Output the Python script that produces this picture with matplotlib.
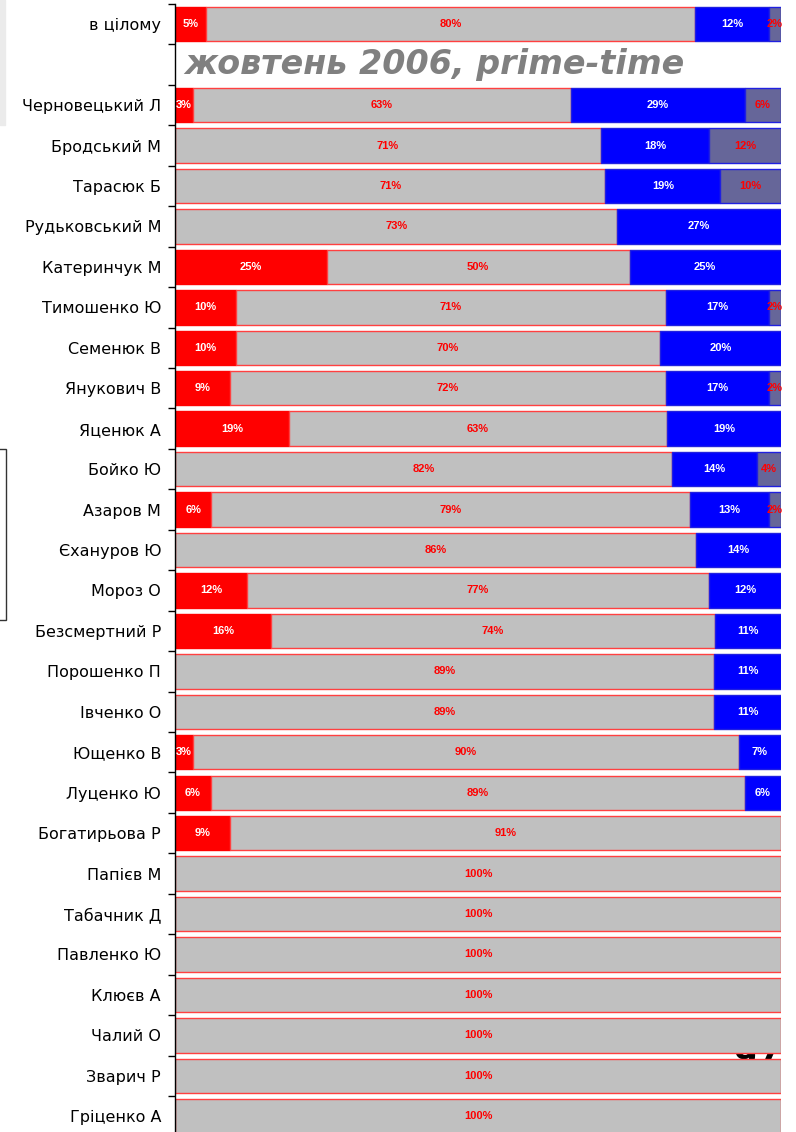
import matplotlib.pyplot as plt
import numpy as np
from matplotlib.patches import Rectangle

names = ["в цілому", "", "Черновецький Л", "Бродський М", "Тарасюк Б",
         "Рудьковський М", "Катеринчук М", "Тимошенко Ю", "Семенюк В",
         "Янукович В", "Яценюк А", "Бойко Ю", "Азаров М", "Єхануров Ю",
         "Мороз О", "Безсмертний Р", "Порошенко П", "Івченко О", "Ющенко В",
         "Луценко Ю", "Богатирьова Р", "Папієв М", "Табачник Д", "Павленко Ю",
         "Клюєв А", "Чалий О", "Зварич Р", "Гріценко А"]

# percent shares per row (blank row between total and the people)
neg = [5, 0, 3, 0, 0, 0, 25, 10, 10, 9, 19, 0, 6, 0, 12, 16, 0, 0, 3, 6, 9,
       0, 0, 0, 0, 0, 0, 0]
neutral = [80, 0, 63, 71, 71, 73, 50, 71, 70, 72, 63, 82, 79, 86, 77, 74, 89,
           89, 90, 89, 91, 100, 100, 100, 100, 100, 100, 100]
pos = [12, 0, 29, 18, 19, 27, 25, 17, 20, 17, 19, 14, 13, 14, 12, 11, 11, 11,
       7, 6, 0, 0, 0, 0, 0, 0, 0, 0]
other = [2, 0, 6, 12, 10, 0, 0, 2, 0, 2, 0, 4, 2, 0, 0, 0, 0, 0, 0, 0, 0,
         0, 0, 0, 0, 0, 0, 0]

series = [
    (neg, "#FF0000", "#FF0000", "white"),
    (neutral, "#C0C0C0", "#FF4040", "#FF0000"),
    (pos, "#0000FF", "#2020E0", "white"),
    (other, "#666699", "#2020E0", "#FF0000"),
]

vals = np.array([s[0] for s in series], dtype=float)
tot = vals.sum(axis=0)
tot[tot == 0] = 1
widths = vals / tot * 100

fig = plt.figure(figsize=(7.96, 11.32), dpi=100)

# page leftovers around the chart
fig.patches.append(Rectangle((0, 1 - 125 / 1132), 5 / 796, 125 / 1132,
                             transform=fig.transFigure, color="#EBEBEB", zorder=-2))
fig.patches.append(Rectangle((-0.01, 1 - 620 / 1132), 5.5 / 796 + 0.01, 171 / 1132,
                             transform=fig.transFigure, fill=False,
                             edgecolor="#333333", lw=1, zorder=-2))
fig.text(733 / 796, 1 - 1068 / 1132, "97", fontsize=24, fontweight="bold",
         color="black", zorder=-1)

ax = fig.add_axes([175 / 796, 1 - 1136.5 / 1132, 606 / 796, 1132.5 / 1132])
ax.set_facecolor("none")

y = np.arange(len(names))
left = np.zeros(len(names))
for (v, fc, ec, tc), w in zip(series, widths):
    v = np.array(v)
    m = v > 0
    ax.barh(y[m], w[m], left=left[m], height=0.85, color=fc, edgecolor=ec,
            linewidth=1)
    for i in np.where(m)[0]:
        ax.text(left[i] + w[i] / 2, y[i], f"{v[i]}%", ha="center",
                va="center", color=tc, fontsize=8, fontweight="bold",
                family="Liberation Sans")
    left += w

ax.text(1.5, 1, "жовтень 2006, prime-time", fontsize=24, fontweight="bold",
        style="italic", color="#808080", va="center", ha="left")

ax.set_xlim(0, 100)
ax.set_ylim(len(names) - 0.5, -0.5)
ax.set_yticks(y)
ax.set_yticklabels(names, fontsize=11.5)
ax.set_yticks(np.arange(-0.5, len(names)), minor=True)
ax.tick_params(axis="y", which="major", length=0, pad=10)
ax.tick_params(axis="y", which="minor", length=5, width=1)
ax.set_xticks([])
for side in ["top", "right", "bottom"]:
    ax.spines[side].set_visible(False)
ax.spines["left"].set_linewidth(1)

fig.savefig("out.png", dpi=100)
